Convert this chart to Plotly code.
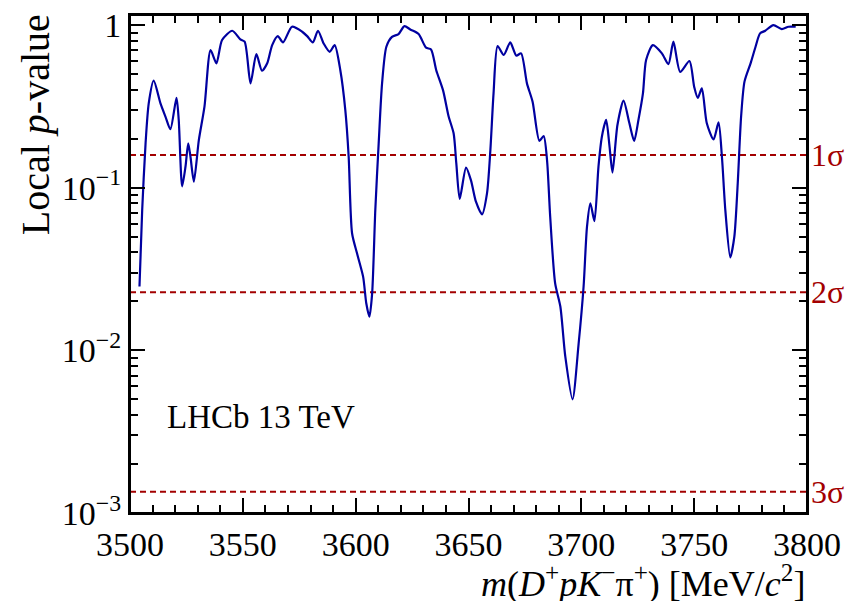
import math
import plotly.graph_objects as go

mass = [3504.2, 3505.4, 3506.9, 3508.3, 3510.5, 3513.5, 3515.7, 3517.9, 3520.6, 3521.6,
        3523.1, 3524.6, 3525.8, 3526.8, 3528.3, 3530.5, 3533.0, 3535.7, 3538.3, 3540.8,
        3545.3, 3548.9, 3550.8, 3553.4, 3556.0, 3558.5, 3560.8, 3563.0, 3565.5, 3567.8,
        3571.8, 3576.3, 3578.5, 3581.0, 3583.3, 3585.8, 3588.5, 3590.7, 3593.2, 3595.4,
        3596.9, 3598.4, 3600.6, 3603.3, 3604.7, 3606.1, 3607.3, 3608.7, 3610.2, 3611.7,
        3613.6, 3616.1, 3619.0, 3621.6, 3624.2, 3627.9, 3631.2, 3633.4, 3635.7, 3638.7,
        3641.2, 3643.4, 3644.6, 3646.1, 3648.9, 3651.1, 3653.3, 3656.0, 3658.2, 3659.7,
        3661.1, 3662.9, 3665.6, 3668.5, 3671.2, 3673.3, 3675.9, 3678.4, 3681.4, 3683.3,
        3684.8, 3686.2, 3688.4, 3690.7, 3692.9, 3696.1, 3698.8, 3701.0, 3702.5, 3704.0,
        3705.8, 3707.6, 3709.1, 3711.0, 3712.5, 3713.8, 3716.0, 3718.7, 3721.3, 3723.4,
        3725.3, 3727.3, 3728.7, 3731.7, 3735.7, 3738.6, 3740.8, 3743.8, 3747.9, 3750.0,
        3751.6, 3753.4, 3755.6, 3758.6, 3760.8, 3762.3, 3763.8, 3766.0, 3767.8, 3769.3,
        3770.8, 3772.3, 3775.0, 3777.2, 3779.2, 3781.5, 3785.1, 3788.8, 3791.8, 3795.0]

p_value = [0.0247, 0.073, 0.1875, 0.330, 0.455, 0.330, 0.274, 0.229, 0.357, 0.261,
           0.102, 0.135, 0.1875, 0.155, 0.109, 0.196, 0.315, 0.701, 0.582, 0.809,
           0.923, 0.817, 0.791, 0.438, 0.664, 0.524, 0.582, 0.753, 0.855, 0.782,
           0.977, 0.910, 0.855, 0.782, 0.923, 0.771, 0.685, 0.753, 0.528, 0.301,
           0.155, 0.0525, 0.0395, 0.0284, 0.0195, 0.0161, 0.0224, 0.073, 0.1875, 0.438,
           0.736, 0.847, 0.881, 0.986, 0.940, 0.881, 0.726, 0.708, 0.528, 0.398,
           0.274, 0.216, 0.141, 0.0853, 0.133, 0.111, 0.0820, 0.0686, 0.0923, 0.171,
           0.380, 0.743, 0.655, 0.782, 0.649, 0.670, 0.438, 0.338, 0.194, 0.208,
           0.148, 0.0664, 0.0258, 0.0186, 0.00914, 0.0050, 0.0110, 0.0247, 0.0575, 0.0802,
           0.0624, 0.135, 0.206, 0.261, 0.179, 0.124, 0.243, 0.343, 0.249, 0.194,
           0.261, 0.380, 0.610, 0.753, 0.670, 0.575, 0.791, 0.516, 0.601, 0.418,
           0.357, 0.408, 0.249, 0.198, 0.252, 0.155, 0.073, 0.0373, 0.050, 0.106,
           0.274, 0.449, 0.582, 0.736, 0.889, 0.923, 1.0, 0.944, 0.977, 0.977]

sigma_labels = ["1σ", "2σ", "3σ"]
sigma_p = [0.1587, 0.02275, 0.00135]

y_tickvals = [0.001, 0.01, 0.1, 1]
y_ticktext = ["10<sup>−3</sup>", "10<sup>−2</sup>", "10<sup>−1</sup>", "1"]
x_tickvals = [3500, 3550, 3600, 3650, 3700, 3750, 3800]

FONT = "Liberation Serif"
RED = "#a30000"
BLUE = "#0000a0"

fig = go.Figure()

for sp in sigma_p:
    fig.add_trace(go.Scatter(x=[3500, 3800], y=[sp, sp], mode="lines",
                             line=dict(color=RED, width=2, dash="6px,4px"),
                             showlegend=False, hoverinfo="skip"))

fig.add_trace(go.Scatter(x=mass, y=p_value, mode="lines",
                         line=dict(color=BLUE, width=2.2, shape="spline", smoothing=0.7),
                         showlegend=False))

for lab, sp in zip(sigma_labels, sigma_p):
    fig.add_annotation(x=1.0, xref="paper", y=math.log10(sp), yref="y", text=lab,
                       showarrow=False, xanchor="left", xshift=2,
                       font=dict(family=FONT, size=32, color=RED))

fig.add_annotation(x=0.052, xref="paper", y=math.log10(0.0039), yref="y", text="LHCb 13 TeV",
                   showarrow=False, xanchor="left", yanchor="middle",
                   font=dict(family=FONT, size=33, color="black"))

fig.add_annotation(x=1.0, xref="paper", y=-0.088, yref="paper",
                   text="<i>m</i>(<i>D</i><sup>+</sup><i>pK</i><sup>−</sup>π<sup>+</sup>) [MeV/<i>c</i><sup>2</sup>]",
                   showarrow=False, xanchor="right", yanchor="top",
                   font=dict(family=FONT, size=36, color="black"))

fig.add_annotation(x=-0.14, xref="paper", y=1.005, yref="paper",
                   text="Local <i>p</i>-value", textangle=-90,
                   showarrow=False, xanchor="center", yanchor="top",
                   font=dict(family=FONT, size=40, color="black"))

axis_common = dict(showline=True, linecolor="black", linewidth=2, mirror="allticks",
                   ticks="inside", tickcolor="black", tickwidth=2, ticklen=15,
                   showgrid=False, zeroline=False, automargin=False,
                   ticklabeloverflow="allow",
                   tickfont=dict(family=FONT, size=34, color="black"))

fig.update_xaxes(range=[3500, 3800], tickvals=x_tickvals,
                 minor=dict(dtick=10, ticks="inside", ticklen=8, tickwidth=2,
                            tickcolor="black", showgrid=False),
                 **axis_common)
fig.update_yaxes(type="log", range=[-3, 0.062], tickvals=y_tickvals, ticktext=y_ticktext,
                 minor=dict(ticks="inside", ticklen=8, tickwidth=2, tickcolor="black",
                            showgrid=False, dtick="D1"),
                 **axis_common)

# frame around the plotting area
fig.add_shape(type="rect", xref="paper", yref="paper", x0=0, x1=1, y0=0, y1=1,
              line=dict(color="black", width=2), layer="above")

fig.update_layout(width=855, height=601, plot_bgcolor="white", paper_bgcolor="white",
                  template="none",
                  margin=dict(l=130, r=48, t=15, b=88),
                  font=dict(family=FONT, color="black"))

fig.write_html("out.html", config={"displayModeBar": False},
               post_script="document.body.style.margin='0px';")
